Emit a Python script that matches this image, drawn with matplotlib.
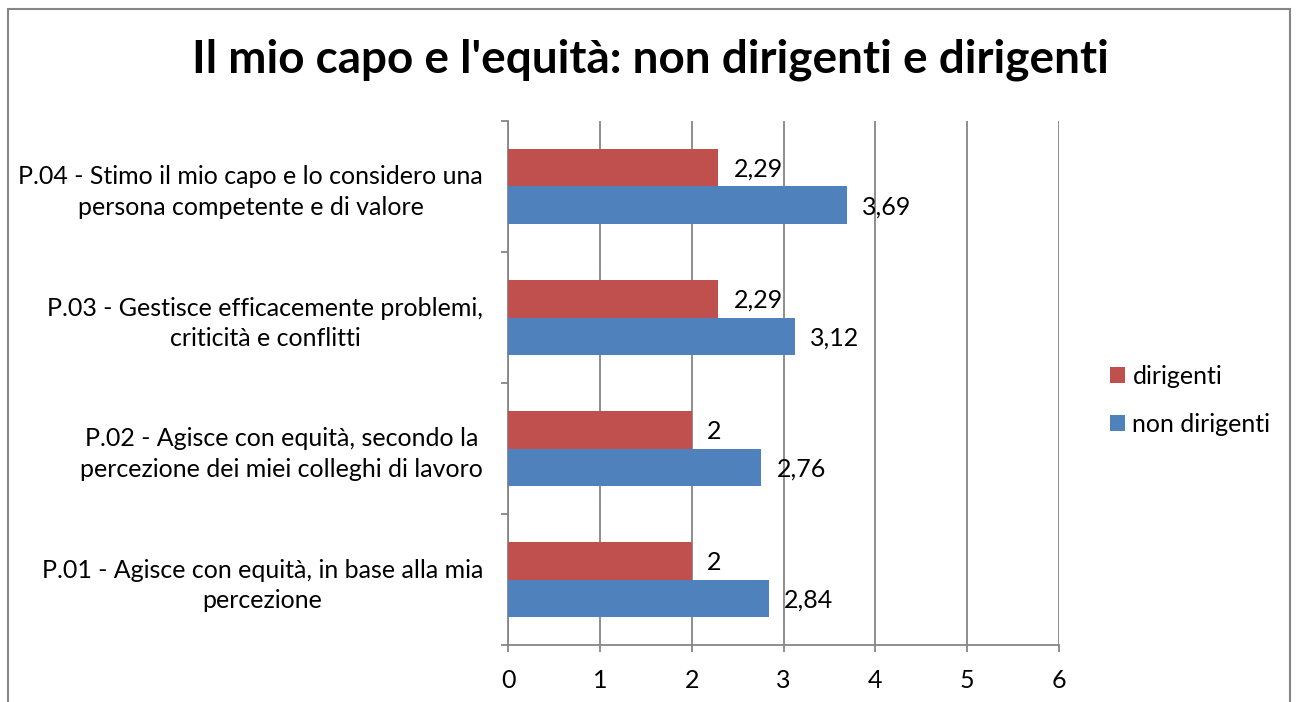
import numpy as np
import matplotlib
matplotlib.use("Agg")
import matplotlib.pyplot as plt
from matplotlib.patches import Rectangle

plt.rcParams['font.family'] = ['Lato', 'DejaVu Sans']

categories = [
    "P.01 - Agisce con equità, in base alla mia\npercezione",
    "P.02 - Agisce con equità, secondo la\npercezione dei miei colleghi di lavoro",
    "P.03 - Gestisce efficacemente problemi,\ncriticità e conflitti",
    "P.04 - Stimo il mio capo e lo considero una\npersona competente e di valore",
]
dirigenti = [2, 2, 2.29, 2.29]
non_dirigenti = [2.84, 2.76, 3.12, 3.69]
series_names = ["dirigenti", "non dirigenti"]
xticks = [0, 1, 2, 3, 4, 5, 6]

RED = "#C0504D"
BLUE = "#4F81BD"
GRID = "#868686"
FS = 18


def fmt(v):
    return f"{v:g}".replace(".", ",")


fig = plt.figure(figsize=(12.98, 7.02), dpi=100)

# outer chart frame
fig.patches.append(Rectangle((7.5 / 1298, -0.02), (1290 - 7.5) / 1298, 1.02 - 9 / 702,
                             transform=fig.transFigure, fill=False,
                             edgecolor=GRID, linewidth=1.5))

ax = fig.add_axes([508 / 1298, 1 - 645 / 702, (1059 - 508) / 1298, (645 - 121) / 702])

y = np.arange(len(categories))
h = 0.286
bars_r = ax.barh(y + h / 2, dirigenti, height=h, color=RED, zorder=3, label=series_names[0])
bars_b = ax.barh(y - h / 2, non_dirigenti, height=h, color=BLUE, zorder=3, label=series_names[1])

for bars, vals in ((bars_r, dirigenti), (bars_b, non_dirigenti)):
    for b, v in zip(bars, vals):
        ax.annotate(fmt(v), (v, b.get_y() + b.get_height() / 2),
                    xytext=(11, -1), textcoords="offset points",
                    ha="left", va="center", fontsize=FS, zorder=4)

ax.set_xlim(0, 6)
ax.set_ylim(-0.5, len(categories) - 0.5)
ax.set_xticks(xticks)
ax.set_xticklabels([str(t) for t in xticks], fontsize=FS)
ax.xaxis.grid(True, color=GRID, linewidth=1.3, zorder=0)

# category boundaries get the tick marks, labels sit in the middle
ax.set_yticks(np.arange(-0.5, len(categories), 1.0))
ax.set_yticklabels([])
ax.set_yticks(y, minor=True)
ax.set_yticklabels(categories, minor=True, fontsize=FS, ha="right",
                   multialignment="center", linespacing=1.42)
ax.tick_params(axis="y", which="minor", length=0, pad=18)
ax.tick_params(axis="y", which="major", length=5, width=1.3, color=GRID, direction="out")
ax.tick_params(axis="x", length=5, width=1.3, color=GRID, direction="out", pad=12)

for s in ("top", "right"):
    ax.spines[s].set_visible(False)
for s in ("left", "bottom"):
    ax.spines[s].set_color(GRID)
    ax.spines[s].set_linewidth(1.3)

fig.text(650 / 1298, 1 - 60 / 702, "Il mio capo e l'equità: non dirigenti e dirigenti",
         ha="center", va="center", fontsize=33, fontweight="bold")

handles = [bars_r, bars_b]
fig.legend(handles, series_names, loc="center left",
           bbox_to_anchor=(1110 / 1298, 1 - 400 / 702), frameon=False,
           fontsize=FS, handlelength=0.6, handleheight=0.6, handletextpad=0.3,
           labelspacing=1.0, borderpad=0, borderaxespad=0)

fig.savefig("out.png", dpi=100)
